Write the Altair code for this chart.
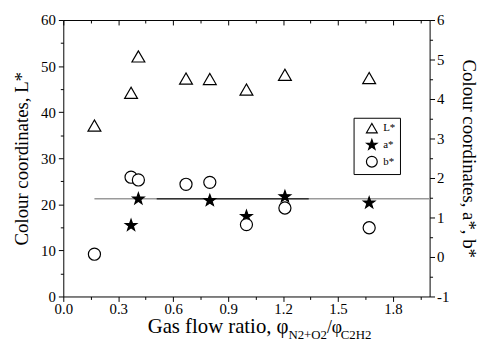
import altair as alt
import pandas as pd

# ---- data ----
x_L = [0.17, 0.37, 0.41, 0.67, 0.80, 1.00, 1.21, 1.67]
L_star = [37.1, 44.2, 52.1, 47.3, 47.2, 44.9, 48.1, 47.4]

x_a = [0.37, 0.41, 0.80, 1.00, 1.21, 1.67]
a_star = [0.80, 1.47, 1.43, 1.03, 1.53, 1.37]

x_b = [0.17, 0.37, 0.41, 0.67, 0.80, 1.00, 1.21, 1.67]
b_star = [0.07, 2.02, 1.95, 1.84, 1.89, 0.82, 1.24, 0.74]

line_level = 1.475
line_light = [0.17, 2.0]
line_dark = [0.51, 1.34]

series = ["L*", "a*", "b*"]
x_ticks = [round(i * 0.15, 2) for i in range(14)]
left_ticks = list(range(0, 61, 5))
right_ticks = [i * 0.5 - 1 for i in range(15)]

STAR = ("M0,-1L0.235,-0.324L0.951,-0.309L0.380,0.124L0.588,0.809L0,0.4"
        "L-0.588,0.809L-0.380,0.124L-0.951,-0.309L-0.235,-0.324Z")

FONT = "Liberation Serif"
W, H = 371, 280

dfL = pd.DataFrame({"x": x_L, "y": L_star, "series": "L*"})
dfab = pd.concat([
    pd.DataFrame({"x": x_a, "y": a_star, "series": "a*"}),
    pd.DataFrame({"x": x_b, "y": b_star, "series": "b*"}),
])

shape_scale = alt.Scale(domain=series, range=["triangle-up", STAR, "circle"])
fill_scale = alt.Scale(domain=series, range=["white", "black", "white"])
stroke_scale = alt.Scale(domain=series, range=["black", "black", "black"])
legend = alt.Legend(
    title=None, orient="none", legendX=294, legendY=99,
    strokeColor="black", padding=4, symbolSize=120,
    symbolStrokeWidth=1.2, labelFont=FONT, labelFontSize=11, rowPadding=1,
    symbolOffset=8, labelOffset=5,
)

xmajor = "abs(round(datum.value/0.3)*0.3 - datum.value) < 1e-6"
x_scale = alt.Scale(domain=[0, 2.0], nice=False, zero=False)

x_axis_bottom = alt.Axis(
    values=x_ticks, title="Gas flow ratio, φ", titleFont=FONT, titleFontSize=21,
    titleFontWeight="normal", titleAlign="left", titleAnchor="start",
    titleX=85, titleY=36, titleBaseline="alphabetic",
    labelExpr=f"{xmajor} ? format(datum.value, '.1f') : ''",
    tickSize={"condition": {"test": xmajor, "value": 5}, "value": 3},
    labelFont=FONT, labelFontSize=15, labelPadding=0, grid=False,
    domainColor="black", tickColor="black", labelColor="black", labelFlush=False,
)
x_axis_top = alt.Axis(
    values=x_ticks, orient="bottom", offset=-H, labels=False, title=None,
    tickSize={"condition": {"test": xmajor, "value": 5}, "value": 3},
    grid=False, domainColor="black", tickColor="black",
)

left_axis = alt.Axis(
    values=left_ticks, title="Colour coordinates, L*", titleFont=FONT,
    titleFontSize=19, titleFontWeight="normal", titlePadding=9,
    labelExpr="datum.value % 10 === 0 ? datum.value : ''",
    tickSize={"condition": {"test": "datum.value % 10 === 0", "value": 5}, "value": 3},
    labelFont=FONT, labelFontSize=15, labelPadding=3, grid=False,
    domainColor="black", tickColor="black", labelColor="black", titleColor="black",
)
right_axis = alt.Axis(
    orient="right", values=right_ticks, title="Colour coordinates, a*, b*",
    titleFont=FONT, titleFontSize=19, titleFontWeight="normal", titlePadding=10,
    labelExpr="datum.value % 1 === 0 ? datum.value : ''",
    tickSize={"condition": {"test": "datum.value % 1 === 0", "value": 5}, "value": 3},
    labelFont=FONT, labelFontSize=15, labelPadding=2, grid=False,
    domainColor="black", tickColor="black", labelColor="black", titleColor="black",
)

layerL = alt.Chart(dfL).mark_point(size=170, strokeWidth=1.2, opacity=1, filled=True).encode(
    x=alt.X("x:Q", scale=x_scale, axis=x_axis_bottom),
    y=alt.Y("y:Q", scale=alt.Scale(domain=[0, 60], nice=False), axis=left_axis),
    shape=alt.Shape("series:N", scale=shape_scale, legend=legend),
    fill=alt.Fill("series:N", scale=fill_scale, legend=legend),
    stroke=alt.Stroke("series:N", scale=stroke_scale, legend=legend),
)

layerAB = alt.Chart(dfab).mark_point(size=150, strokeWidth=1.2, opacity=1, filled=True).encode(
    x=alt.X("x:Q", scale=x_scale, axis=x_axis_top),
    y=alt.Y("y:Q", scale=alt.Scale(domain=[-1, 6], nice=False), axis=right_axis),
    shape=alt.Shape("series:N", scale=shape_scale, legend=legend),
    fill=alt.Fill("series:N", scale=fill_scale, legend=legend),
    stroke=alt.Stroke("series:N", scale=stroke_scale, legend=legend),
)

dfline = pd.DataFrame({
    "x": [line_light[0], line_dark[0]],
    "x2": [line_light[1], line_dark[1]],
    "y": [line_level, line_level],
    "c": ["#9a9a9a", "#333333"],
})
layerLine = alt.Chart(dfline).mark_rule(strokeWidth=1.5).encode(
    x=alt.X("x:Q", scale=x_scale, axis=None),
    x2="x2:Q",
    y=alt.Y("y:Q", scale=alt.Scale(domain=[-1, 6], nice=False), axis=None),
    color=alt.Color("c:N", scale=None),
)

sub = pd.DataFrame({
    "t": ["N2+O2", "/φ", "C2H2"],
    "px": [228, 267, 281],
    "py": [323, 317, 323],
    "fs": [13, 18, 13],
})
layerSub = alt.Chart(sub).mark_text(font=FONT, align="left", baseline="alphabetic", color="black").encode(
    x=alt.X("px:Q", scale=None, axis=None),
    y=alt.Y("py:Q", scale=None, axis=None),
    text="t:N",
    size=alt.Size("fs:Q", scale=None, legend=None),
)

chart = alt.layer(layerLine, layerL, layerAB, layerSub).resolve_scale(
    y="independent", x="independent"
).resolve_axis(x="independent", y="independent").properties(
    width=W, height=H, autosize=alt.AutoSizeParams(type="none"),
    padding={"left": 56, "top": 10, "right": 48, "bottom": 49},
    background="white",
).configure(font=FONT).configure_axis(
    labelFont=FONT, titleFont=FONT
).configure_legend(labelFont=FONT).configure_view(stroke=None)

chart.save("out.html", embed_options={"renderer": "svg", "actions": False})
